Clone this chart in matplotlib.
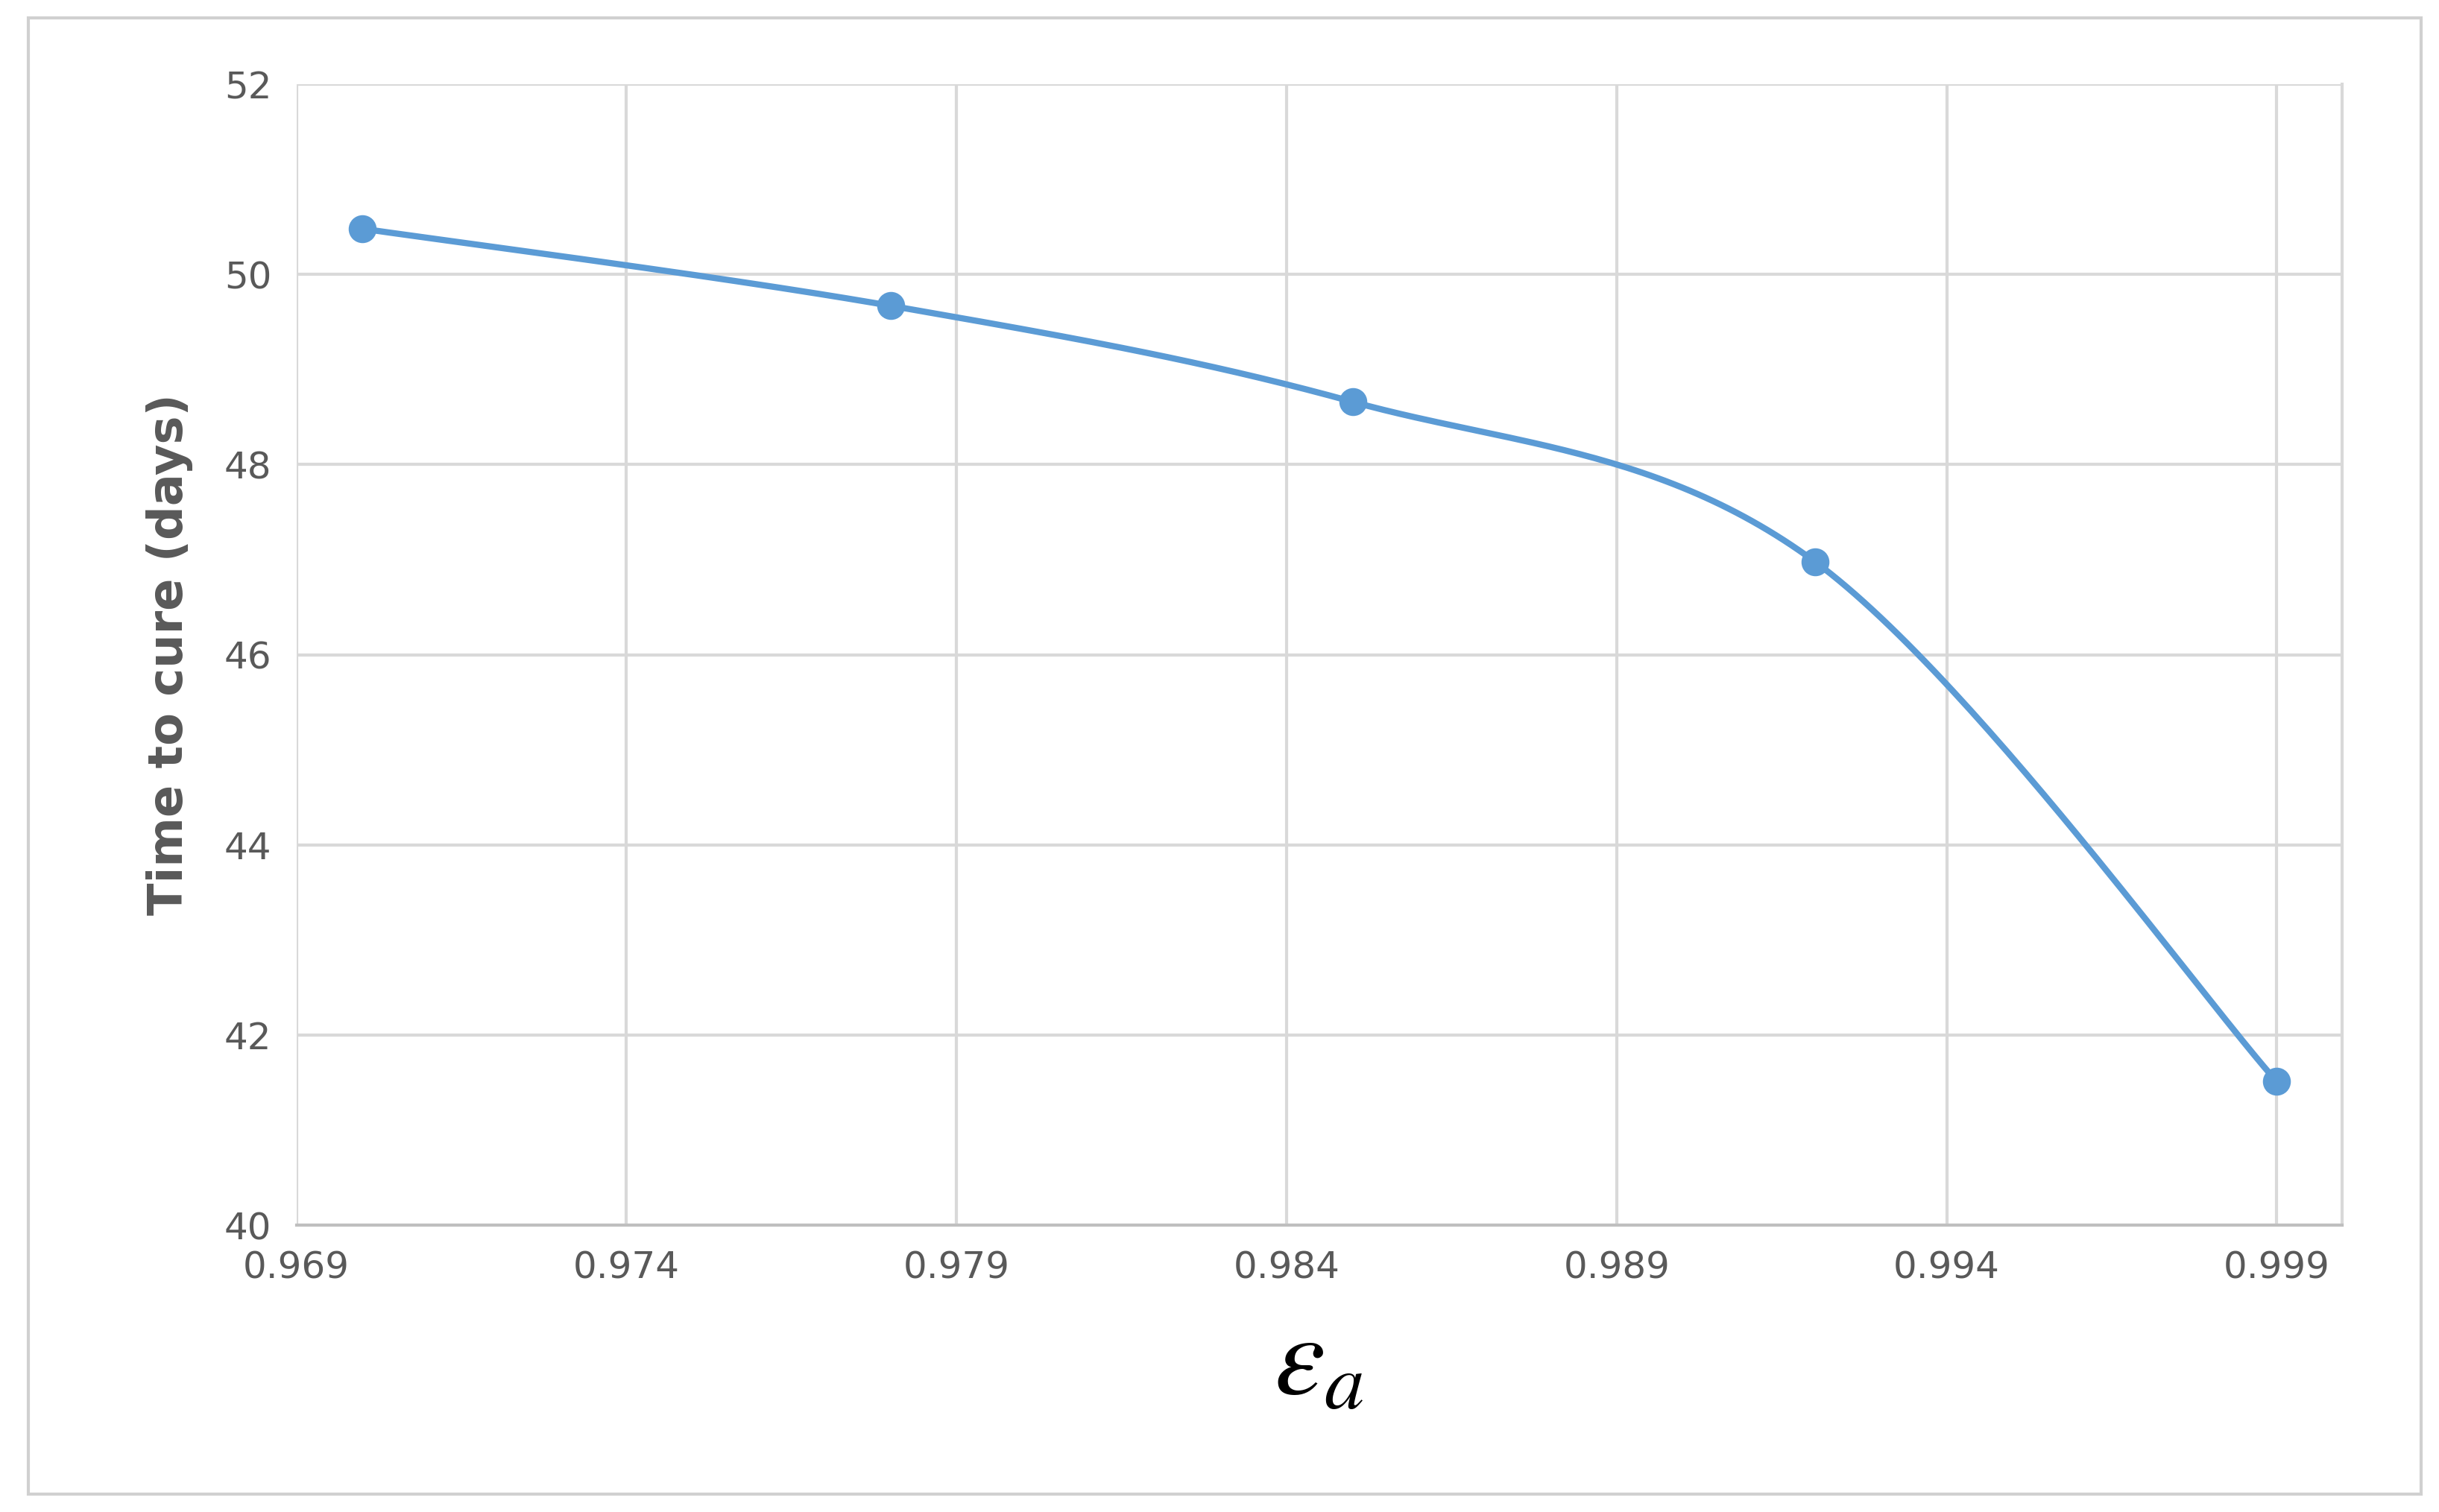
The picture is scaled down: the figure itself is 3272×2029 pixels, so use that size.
import numpy as np
import matplotlib
matplotlib.use("Agg")
import matplotlib.pyplot as plt
from matplotlib.patches import Rectangle

eps_a = [0.970, 0.978, 0.985, 0.992, 0.999]
time_to_cure = [50.48, 49.67, 48.66, 46.98, 41.51]
x_ticks = [0.969, 0.974, 0.979, 0.984, 0.989, 0.994, 0.999]
y_ticks = [40, 42, 44, 46, 48, 50, 52]

plt.rcParams['mathtext.fontset'] = 'stix'

def catmull(xs, ys, n=60, t=0.5):
    P = np.column_stack([xs, ys]).astype(float)
    P = np.vstack([P[0], P, P[-1]])
    out = []
    for i in range(1, len(P) - 2):
        p0, p1, p2, p3 = P[i-1], P[i], P[i+1], P[i+2]
        m1 = t * (p2 - p0); m2 = t * (p3 - p1)
        s = np.linspace(0, 1, n)[:, None]
        h00 = 2*s**3 - 3*s**2 + 1; h10 = s**3 - 2*s**2 + s
        h01 = -2*s**3 + 3*s**2; h11 = s**3 - s**2
        out.append(h00*p1 + h10*m1 + h01*p2 + h11*m2)
    return np.vstack(out)

fig = plt.figure(figsize=(32.73, 20.29), dpi=100)
fig.patches.append(Rectangle((0.0115, 0.012), 0.981, 0.976, transform=fig.transFigure,
                             fill=False, edgecolor='#d0d0d0', linewidth=3))
ax = fig.add_axes([0.1215, 0.1897, 0.8385, 0.7546])
xs = np.array(eps_a); ys = np.array(time_to_cure)
sx = (xs - 0.969) / 0.03; sy = (ys - 40) / 12
c = catmull(sx, sy)
ax.plot(c[:, 0]*0.03 + 0.969, c[:, 1]*12 + 40, color='#5b9bd5', lw=6, zorder=3)
ax.plot(eps_a, time_to_cure, 'o', color='#5b9bd5', ms=26, zorder=4)
ax.set_xlim(0.969, 0.99999)
ax.set_ylim(40, 52)
ax.set_xticks(x_ticks)
ax.set_xticklabels([f"{v:.3f}" for v in x_ticks])
ax.set_yticks(y_ticks)
ax.grid(True, color='#d9d9d9', lw=3)
ax.set_axisbelow(True)
for s in ['top', 'left']:
    ax.spines[s].set_visible(False)
ax.spines['right'].set_color('#d9d9d9'); ax.spines['right'].set_linewidth(3)
ax.spines['bottom'].set_color('#bfbfbf'); ax.spines['bottom'].set_linewidth(3)
ax.tick_params(length=0, labelsize=36, labelcolor='#595959', pad=24)
ax.set_ylabel('Time to cure (days)', fontsize=46, fontweight='bold', color='#595959', labelpad=30)
ax.set_xlabel(r'$\varepsilon_a$', fontsize=110, labelpad=20)
fig.savefig('out.png', dpi=100)
